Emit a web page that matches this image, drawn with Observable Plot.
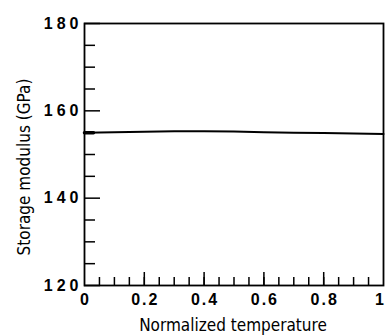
<!DOCTYPE html>
<html><head><meta charset="utf-8">
<script src="https://cdn.jsdelivr.net/npm/d3@7"></script>
<script src="https://cdn.jsdelivr.net/npm/@observablehq/plot@0.6"></script>
<style>
body{margin:0;background:#fff;}
svg{font-family:"Liberation Sans",Arial,sans-serif;}
.yl text{font-weight:bold;font-size:16px;letter-spacing:4px;}
.xl text{font-weight:bold;font-size:16px;letter-spacing:2px;}
.ttl{font-family:"DejaVu Sans Condensed","DejaVu Sans",sans-serif;font-stretch:condensed;font-size:17px;fill:#000;}
</style>
</head><body><div id="c"></div>
<script>
const temperature = [0, 0.1, 0.2, 0.3, 0.4, 0.5, 0.6, 0.7, 0.8, 0.9, 1.0];
const modulus = [155.0, 155.1, 155.2, 155.3, 155.3, 155.25, 155.1, 155.0, 154.9, 154.8, 154.7];
const startTemperature = [0, 0.03];
const startModulus = [155.0, 155.0];
const xMajorTicks = [0, 0.2, 0.4, 0.6, 0.8, 1];
const xMinorTicks = d3.range(0.05, 1.0, 0.05);
const yMajorTicks = [120, 140, 160, 180];
const yMinorTicks = [125, 130, 135, 145, 150, 155, 165, 170, 175];
const data = temperature.map((t, i) => ({t, m: modulus[i]}));
const startData = startTemperature.map((t, i) => ({t, m: startModulus[i]}));

const chart = Plot.plot({
  width: 388, height: 335,
  marginLeft: 84, marginRight: 5, marginTop: 23, marginBottom: 50,
  x: {domain: [0, 1], label: null},
  y: {domain: [120, 180], label: null},
  marks: [
    Plot.axisY(yMajorTicks, {tickSize: -16, text: null, strokeWidth: 1.5, label: null}),
    Plot.axisY(yMinorTicks, {tickSize: -11, text: null, strokeWidth: 1.5, label: null}),
    Plot.axisY(yMajorTicks, {tickSize: 0, tickPadding: 2, label: null, className: "yl", tickFormat: d => String(d), fill: "#000"}),
    Plot.axisX(xMajorTicks.slice(1, 5), {tickSize: -13, text: null, strokeWidth: 1.5, label: null}),
    Plot.axisX(xMinorTicks, {tickSize: -8, text: null, strokeWidth: 1.5, label: null}),
    Plot.axisX(xMajorTicks.slice(0, 5), {tickSize: 0, tickPadding: 8, dx: 1, label: null, className: "xl", tickFormat: d => String(d), fill: "#000"}),
    Plot.axisX(xMajorTicks.slice(5), {tickSize: 0, tickPadding: 8, dx: -3, label: null, className: "xl", tickFormat: d => String(d), fill: "#000"}),
    Plot.frame({stroke: "#000", strokeWidth: 1.8}),
    Plot.line(data, {x: "t", y: "m", stroke: "#000", strokeWidth: 2}),
    Plot.line(startData, {x: "t", y: "m", stroke: "#000", strokeWidth: 3.5})
  ]
});
const svg = d3.select(chart);
svg.append("text").attr("class", "ttl").attr("x", 233).attr("y", 331).attr("text-anchor", "middle")
  .text("Normalized temperature");
svg.append("text").attr("class", "ttl").attr("transform", "translate(30,167) rotate(-90)").attr("text-anchor", "middle")
  .text("Storage modulus (GPa)");
document.getElementById("c").appendChild(chart);
</script>
</body></html>
